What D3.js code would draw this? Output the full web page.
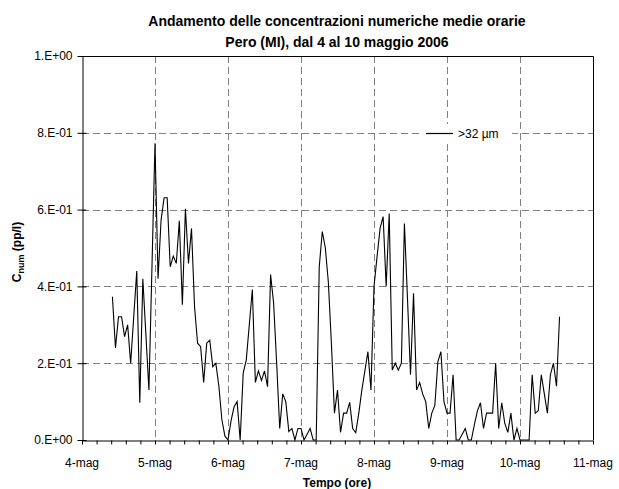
<!DOCTYPE html>
<html>
<head>
<meta charset="utf-8">
<script src="https://cdn.jsdelivr.net/npm/d3@7"></script>
<style>
  html, body { margin: 0; padding: 0; background: #fff; }
  svg { display: block; font-family: "Liberation Sans", Arial, sans-serif; }
</style>
</head>
<body>
<svg id="chart" width="619" height="489"></svg>
<script>
// ---- data ----
const titleLines = ["Andamento delle concentrazioni numeriche medie orarie", "Pero (MI), dal 4 al 10 maggio 2006"];
const dayLabels = ["4-mag", "5-mag", "6-mag", "7-mag", "8-mag", "9-mag", "10-mag", "11-mag"];
const yTickValues = [0, 0.2, 0.4, 0.6, 0.8, 1.0];
const yTickLabels = ["0.E+00", "2.E-01", "4.E-01", "6.E-01", "8.E-01", "1.E+00"];
const seriesName = ">32 \u00b5m";
const startHour = 10; // first reading: 4 May, 10:00, then one per hour
const values = [
  // 4 May 10:00 - 5 May 00:00
  0.373, 0.24, 0.321, 0.321, 0.269, 0.30, 0.20, 0.32, 0.44, 0.097, 0.42, 0.275, 0.13, 0.45, 0.773,
  // 5 May 01:00 - 18:00
  0.42, 0.573, 0.631, 0.631, 0.451, 0.479, 0.46, 0.571, 0.352, 0.602, 0.46, 0.551, 0.347, 0.252, 0.243, 0.15, 0.252, 0.26,
  // 5 May 19:00 - 6 May 16:00
  0.191, 0.20, 0.14, 0.052, 0.01, 0.0, 0.05, 0.087, 0.10, 0.0, 0.174, 0.208, 0.30, 0.392, 0.15, 0.18, 0.155, 0.18, 0.139, 0.431, 0.356, 0.2,
  // 6 May 17:00 - 7 May 23:00
  0.03, 0.12, 0.10, 0.022, 0.03, 0.0, 0.03, 0.03, 0.0, 0.015, 0.03, 0.0, 0.0, 0.451, 0.543, 0.50, 0.41, 0.25, 0.07, 0.13, 0.02, 0.07, 0.07, 0.098, 0.03, 0.019, 0.07, 0.13, 0.18, 0.23, 0.13,
  // 8 May 00:00 - 9 May 03:00
  0.40, 0.477, 0.551, 0.582, 0.40, 0.59, 0.182, 0.20, 0.182, 0.20, 0.564, 0.37, 0.17, 0.382, 0.13, 0.15, 0.12, 0.10, 0.03, 0.07, 0.09, 0.204, 0.23, 0.10, 0.07, 0.07, 0.17, 0.0,
  // 9 May 04:00 - 10 May 13:00
  0.0, 0.015, 0.03, 0.0, 0.0, 0.04, 0.076, 0.097, 0.03, 0.07, 0.07, 0.07, 0.20, 0.03, 0.097, 0.043, 0.02, 0.07, 0.0, 0.03, 0.0, 0.0, 0.0, 0.0, 0.17, 0.07, 0.076, 0.17, 0.12, 0.07, 0.17, 0.20, 0.14, 0.321
];

// ---- layout ----
const svg = d3.select("#chart");
const plot = { left: 82, right: 593, top: 56, bottom: 440 };
const totalHours = (dayLabels.length - 1) * 24;

const x = d3.scaleLinear().domain([0, totalHours]).range([plot.left, plot.right]);
const y = d3.scaleLinear().domain([0, 1]).range([plot.bottom, plot.top]);

const points = values.map((v, i) => ({ h: startHour + i, v }));

// gridlines
const grid = svg.append("g").attr("stroke", "#808080").attr("stroke-width", 1).attr("stroke-dasharray", "7,4");
grid.selectAll("line.h").data(yTickValues.filter(v => v > 0 && v < 1)).join("line")
  .attr("x1", plot.left).attr("x2", plot.right)
  .attr("y1", d => Math.round(y(d)) + 0.5).attr("y2", d => Math.round(y(d)) + 0.5);
grid.selectAll("line.v").data(d3.range(1, dayLabels.length - 1)).join("line")
  .attr("y1", plot.top).attr("y2", plot.bottom)
  .attr("x1", d => Math.round(x(d * 24)) + 0.5).attr("x2", d => Math.round(x(d * 24)) + 0.5);

// plot frame (top & right)
svg.append("path")
  .attr("d", `M${plot.left},${plot.top + 0.5}H${plot.right + 0.5}V${plot.bottom}`)
  .attr("fill", "none").attr("stroke", "#000").attr("stroke-width", 1);

// data line
const line = d3.line().x(d => x(d.h)).y(d => y(d.v));
svg.append("path").datum(points)
  .attr("d", line).attr("fill", "none").attr("stroke", "#000").attr("stroke-width", 1.1)
  .attr("stroke-linejoin", "miter");

// x axis
const xAxis = d3.axisBottom(x)
  .tickValues(d3.range(0, totalHours + 0.01, 24 / 5))
  .tickSize(4).tickSizeOuter(0).tickFormat("");
const gx = svg.append("g").attr("transform", `translate(0,${plot.bottom + 0.5})`).call(xAxis);
gx.select(".domain").attr("stroke", "#000");
gx.selectAll(".tick line").attr("stroke", "#000");
svg.append("g").selectAll("text").data(dayLabels).join("text")
  .attr("x", (d, i) => x(i * 24)).attr("y", 467)
  .attr("text-anchor", "middle").attr("font-size", 12).attr("fill", "#000")
  .text(d => d);

// y axis
const yAxis = d3.axisLeft(y).tickValues(yTickValues)
  .tickSize(5).tickSizeOuter(0).tickFormat((d, i) => yTickLabels[i]).tickPadding(5);
const gy = svg.append("g").attr("transform", `translate(${plot.left + 0.5},0)`).call(yAxis);
gy.select(".domain").attr("stroke", "#000");
gy.selectAll(".tick line").attr("stroke", "#000").attr("x2", 4).attr("x1", -5);
gy.selectAll(".tick text").attr("font-size", 12).attr("fill", "#000")
  .attr("font-family", "Liberation Sans, Arial, sans-serif").attr("x", -10);

// legend
const lg = svg.append("g");
lg.append("rect").attr("x", 420).attr("y", 124).attr("width", 92).attr("height", 18).attr("fill", "#fff");
lg.append("line").attr("x1", 426).attr("x2", 453).attr("y1", 133.5).attr("y2", 133.5)
  .attr("stroke", "#000").attr("stroke-width", 1.2);
lg.append("text").attr("x", 458).attr("y", 138).attr("font-size", 12).text(seriesName);

// titles
svg.append("g").selectAll("text").data(titleLines).join("text")
  .attr("x", 337).attr("y", (d, i) => 26 + i * 21)
  .attr("text-anchor", "middle").attr("font-weight", "bold").attr("font-size", 14)
  .text(d => d);

svg.append("text").attr("x", 337).attr("y", 487)
  .attr("text-anchor", "middle").attr("font-weight", "bold").attr("font-size", 12)
  .text("Tempo (ore)");

const yt = svg.append("text").attr("transform", "translate(21,252) rotate(-90)")
  .attr("text-anchor", "middle").attr("font-weight", "bold").attr("font-size", 12);
yt.append("tspan").text("C");
yt.append("tspan").attr("font-size", 9).attr("dy", 3).text("num");
yt.append("tspan").attr("dy", -3).text(" (pp/l)");
</script>
</body>
</html>
